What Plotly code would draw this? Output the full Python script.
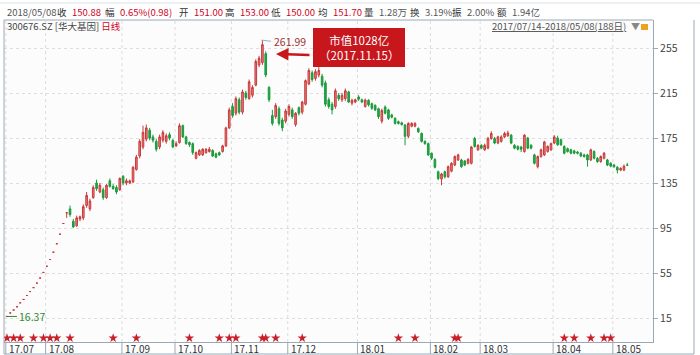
import plotly.graph_objects as go

# ---------------- data ----------------
opens = [16.37, 19.5, 22.1, 25.0, 28.5, 31.5, 35.0, 38.5, 42.0, 46.0, 50.5, 55.5, 61.0, 67.0, 73.5, 81.0, 89.5, 99.0,
         108.5, 112, 101, 97, 103, 104, 115, 112, 122, 135, 127, 129, 122, 137, 132, 131, 129, 141, 135, 135, 136, 147,
         159, 167, 174, 182, 176, 172, 167, 173, 172, 178, 173, 168, 171, 186, 176, 171, 170, 157, 160, 160,
         162, 163, 164, 161, 162, 163, 168, 184, 203, 197, 209, 198, 215, 210, 213, 222, 240, 242, 250, 220,
         195, 194, 201, 191, 190, 196, 200, 187, 202, 198, 205, 223, 233, 228, 231, 230, 224, 209, 205, 203,
         213, 209, 210, 216, 206, 207, 211.5, 209, 203, 208.5, 205.5, 204, 201, 190, 202.5, 200, 195.5, 192.5, 189.5, 188.5,
         186.5, 176.5, 185.5, 185.5, 183.5, 179, 172, 170, 161.5, 156, 145, 138.5, 145, 140.5, 145.5, 151, 155.5, 155.5, 154.5, 152.5,
         152.5, 174.5, 164.5, 168.5, 164.5, 166, 174.5, 174.5, 170.5, 172, 176, 177, 177.5, 168.5, 167.5, 167, 163, 175, 168.5, 160,
         149.5, 158.5, 160, 163, 164.5, 170.5, 175, 173.5, 167.5, 165.5, 164.5, 163.5, 162.5, 161.5, 160, 160, 155.5, 163, 157, 154,
         157, 155.5, 152.5, 151, 149, 146.5, 146.5, 151]
highs = [16.37, 19.5, 22.1, 25.0, 28.5, 31.5, 35.0, 38.5, 42.0, 46.0, 50.5, 55.5, 61.0, 67.0, 73.5, 81.0, 89.5, 99.0,
         108.5, 115, 103, 106, 106, 116, 127, 121, 133, 138, 135, 131, 134, 139, 134, 133, 140, 142, 139, 138, 150, 160,
         174, 186, 187, 184, 178, 174, 178, 182, 179, 180, 174, 172, 188, 187, 177, 172, 171, 163, 165, 166,
         166, 167, 165, 162, 163, 169, 185, 202, 206, 212, 211, 218, 217, 227, 222, 245, 248, 261.99, 252, 221,
         200, 206, 203, 193, 201, 205, 202, 198, 203, 208, 227, 237, 235, 236, 238, 232, 226, 211, 207, 219,
         215, 215, 219, 217, 210, 210, 213, 210, 210, 209.5, 206.5, 205, 202, 201, 204, 201, 196.5, 193.5, 190.5, 189.5,
         187.5, 189, 189, 189, 184.5, 180, 173, 171, 162, 157, 146, 144, 146, 150.5, 153.5, 159.5, 161, 156.5, 155.5, 157,
         168, 176, 169.5, 169.5, 170, 176, 181, 176, 177, 177.5, 180.5, 181.5, 178.5, 169.5, 168.5, 168, 178.5, 176, 169.5, 161,
         159.5, 165.5, 172.5, 168.5, 171, 177.5, 177, 174.5, 168.5, 166.5, 165.5, 164.5, 163.5, 162.5, 161, 161, 165.5, 164, 158, 159.5,
         162.5, 156.5, 153.5, 152, 150, 149, 151.5, 153]
lows = [16.37, 19.5, 22.1, 25.0, 28.5, 31.5, 35.0, 38.5, 42.0, 46.0, 50.5, 55.5, 61.0, 67.0, 73.5, 81.0, 89.5, 99.0,
        104, 105, 95, 96, 101, 102, 113, 110, 121, 128, 126, 120, 121, 131, 129, 125, 128, 133, 133, 134, 135, 146,
        157, 165, 172, 173, 171, 163, 165, 171, 170, 173, 166, 167, 170, 175, 169, 167, 160, 156, 159, 159,
        161, 162, 158, 157, 159, 162, 167, 183, 193, 195, 196, 196, 209, 209, 211, 221, 238, 240, 229, 207,
        186, 192, 186, 181, 188, 194, 192, 185, 195, 196, 204, 222, 225, 226, 229, 220, 203, 201, 196, 201,
        208, 207, 208, 206, 204, 206, 208, 206, 202, 203, 200, 199, 192, 188, 196, 191, 192.5, 187, 187, 186,
        168.5, 175, 184.5, 184.5, 179.5, 171, 169, 159, 155.5, 148, 137.5, 133, 139, 139.5, 144.5, 150, 154.5, 148.5, 150, 151.5,
        151.5, 166.5, 163.5, 165, 163.5, 165, 173.5, 169.5, 169.5, 171, 175, 176, 169.5, 165, 164, 162.5, 162, 165, 165, 151.5,
        148, 157.5, 159, 162, 163.5, 169.5, 168, 168, 160.5, 162, 160.5, 160.5, 160.5, 158, 157.5, 149.5, 154.5, 156, 153, 153,
        156, 150, 149, 148.5, 143.5, 145.5, 145.5, 150]
closes = [16.37, 19.5, 22.1, 25.0, 28.5, 31.5, 35.0, 38.5, 42.0, 46.0, 50.5, 55.5, 61.0, 67.0, 73.5, 81.0, 89.5, 99.0,
          108.5, 107, 96, 104, 105, 114, 124, 119, 131, 130, 133, 122, 133, 132, 130, 127, 139, 135, 137, 137, 149, 158,
          172, 180, 184, 175, 173, 165, 176, 180, 177, 175, 167, 170, 186, 176, 170, 169, 162, 162, 164, 165,
          165, 165, 159, 158, 160, 168, 184, 200, 195, 210, 198, 216, 211, 225, 220, 243, 246, 258, 231, 209,
          188, 204, 188, 184, 199, 203, 194, 197, 197, 207, 226, 235, 227, 234, 235, 222, 205, 203, 200, 217,
          210, 213, 217, 207, 208.5, 209, 209.5, 207, 208.7, 204.5, 201.5, 200, 194, 199.5, 197, 192.5, 193.5, 188, 188, 187,
          176.5, 188, 188, 188, 180.5, 172, 170, 160, 157, 149, 139, 143, 140.5, 149.5, 152.5, 158.5, 160, 149.5, 151, 156,
          167, 167.5, 168.5, 166, 168.5, 174.5, 179, 170.5, 176, 176, 179, 179.5, 170.5, 166, 165, 165, 177.5, 166, 166, 152.5,
          158.5, 164.5, 171.5, 167.5, 170, 176, 169, 169, 161.5, 163, 161.5, 161.5, 161.5, 159, 158.5, 155.5, 164.5, 157, 154, 158.5,
          161.5, 151, 150, 149.5, 146.5, 148, 149.9, 150.88]

month_labels = ["17.07", "17.08", "17.09", "17.10", "17.11", "17.12", "18.01", "18.02", "18.03", "18.04", "18.05"]
month_start = [0, 12, 35, 51, 68, 85, 106, 128, 143, 165, 183]
star_days = [0, 2, 4, 8, 11, 13, 15, 19, 32, 39, 55, 64, 67, 69, 77, 78, 81, 89, 118, 123, 135, 136, 168, 171, 176, 180, 182]
y_ticks = [15, 55, 95, 135, 175, 215, 255]

peak_day, peak_val = 77, 261.99
low_day, low_val = 0, 16.37

# header: labels, values, value colours
header_labels = ["收", "幅", "开", "高", "低", "均", "量", "换", "振", "额"]
header_values = ["150.88", "0.65%(0.98)", "151.00", "153.00", "150.00", "151.70", "1.28万", "3.19%", "2.00%", "1.94亿"]
header_colors = ["#d0021b", "#d0021b", "#d0021b", "#d0021b", "#d0021b", "#d0021b", "#555", "#555", "#555", "#555"]
header_value_px = [70, 118, 192, 238, 284, 331, 377, 423, 465, 510]

# ---------------- geometry ----------------
W, H = 700, 355
L, R, T, B = 4, 653, 20, 342
YMIN = 15 - (B - 318) / 1.125
YMAX = 15 + (318 - T) / 1.125
XMIN = (L - 7) / 3.317
XMAX = (R - 7) / 3.317

def px(x):
    return (x - L) / (R - L)

def py(y):
    return (B - y) / (B - T)

FONT = "Noto Sans CJK SC, DejaVu Sans, sans-serif"
days = list(range(len(closes)))

fig = go.Figure()
fig.add_trace(go.Candlestick(
    x=days, open=opens, high=highs, low=lows, close=closes,
    increasing=dict(line=dict(color="#c83a3a", width=1), fillcolor="#e58080"),
    decreasing=dict(line=dict(color="#1c9a3c", width=1), fillcolor="#25a544"),
    whiskerwidth=0, hoverinfo="skip", showlegend=False))

fig.add_trace(go.Scatter(
    x=star_days, y=[YMIN + 3.5] * len(star_days), mode="markers",
    marker=dict(symbol="star", size=7, color="#c8202a", line=dict(width=0)),
    hoverinfo="skip", showlegend=False))

shapes = []
for m in month_start:
    shapes.append(dict(type="line", xref="x", yref="paper", x0=m - 0.35, x1=m - 0.35, y0=0, y1=1,
                       line=dict(color="#dcdcdc", width=1, dash="dot"), layer="below"))
    shapes.append(dict(type="line", xref="x", yref="paper", x0=m - 0.35, x1=m - 0.35, y0=0, y1=py(H - 1),
                       line=dict(color="#9aa8b8", width=1)))
# borders
shapes.append(dict(type="line", xref="paper", yref="paper", x0=0, x1=0, y0=py(H - 1), y1=1,
                   line=dict(color="#9aa8b8", width=1)))
shapes.append(dict(type="line", xref="paper", yref="paper", x0=px(694), x1=px(694), y0=py(H - 1), y1=1,
                   line=dict(color="#9aa8b8", width=1)))
shapes.append(dict(type="line", xref="paper", yref="paper", x0=0, x1=px(694), y0=py(H - 1), y1=py(H - 1),
                   line=dict(color="#9aa8b8", width=1)))
shapes.append(dict(type="line", xref="paper", yref="paper", x0=0, x1=1, y0=1, y1=1,
                   line=dict(color="#9aa8b8", width=1)))
shapes.append(dict(type="line", xref="paper", yref="paper", x0=px(0), x1=px(700), y0=py(3), y1=py(3),
                   line=dict(color="#dde2e8", width=1)))
# peak / low marker lines
shapes.append(dict(type="line", xref="x", yref="y", x0=peak_day - 0.3, x1=peak_day + 2.6, y0=peak_val, y1=peak_val - 1,
                   line=dict(color="#8fb0d0", width=1)))
shapes.append(dict(type="line", xref="x", yref="y", x0=low_day, x1=low_day + 3, y0=low_val, y1=low_val,
                   line=dict(color="#2e8b2e", width=1)))
# red callout box
shapes.append(dict(type="rect", xref="paper", yref="paper", x0=px(313), x1=px(405), y0=py(67), y1=py(28),
                   fillcolor="#c8161d", line=dict(width=0)))
# lock icon
shapes.append(dict(type="rect", xref="paper", yref="paper", x0=px(641), x1=px(648), y0=py(30), y1=py(24),
                   fillcolor="#f0a020", line=dict(width=0)))

HF = 9.5
annotations = []
for lab, m in zip(month_labels, month_start):
    annotations.append(dict(x=m - 0.35, y=py(348), xref="x", yref="paper", text=lab, showarrow=False,
                            xanchor="left", yanchor="middle", xshift=1,
                            font=dict(family=FONT, size=10, color="#333")))
annotations.append(dict(x=px(5), y=py(12), xref="paper", yref="paper", text="2018/05/08", showarrow=False,
                        xanchor="left", yanchor="middle", font=dict(family=FONT, size=HF, color="#555")))
for lab, val, col, vx in zip(header_labels, header_values, header_colors, header_value_px):
    annotations.append(dict(x=px(vx - 1), y=py(12), xref="paper", yref="paper", text=lab, showarrow=False,
                            xanchor="right", yanchor="middle", font=dict(family=FONT, size=HF, color="#333")))
    annotations.append(dict(x=px(vx), y=py(12), xref="paper", yref="paper", text=val, showarrow=False,
                            xanchor="left", yanchor="middle", font=dict(family=FONT, size=HF, color=col)))
annotations.append(dict(x=px(5), y=py(26), xref="paper", yref="paper",
                        text="300676.SZ [华大基因] <span style='color:#d0021b'>日线</span>", showarrow=False,
                        xanchor="left", yanchor="middle", font=dict(family=FONT, size=HF, color="#444")))
annotations.append(dict(x=px(628), y=py(26), xref="paper", yref="paper",
                        text="<u>2017/07/14-2018/05/08(188日)</u>", showarrow=False,
                        xanchor="right", yanchor="middle", font=dict(family=FONT, size=HF, color="#555")))
annotations.append(dict(x=px(629), y=py(26), xref="paper", yref="paper", text="▼", showarrow=False,
                        xanchor="left", yanchor="middle", font=dict(family=FONT, size=9, color="#888")))
annotations.append(dict(x=peak_day + 2.8, y=peak_val - 1, xref="x", yref="y", text=f"{peak_val:.2f}", showarrow=False,
                        xanchor="left", yanchor="middle", font=dict(family=FONT, size=10.5, color="#a03030")))
annotations.append(dict(x=low_day + 3.1, y=low_val, xref="x", yref="y", text=f"{low_val:.2f}", showarrow=False,
                        xanchor="left", yanchor="middle", font=dict(family=FONT, size=10.5, color="#2e8b2e")))
annotations.append(dict(x=px(359), y=py(47.5), xref="paper", yref="paper",
                        text="市值1028亿<br>（2017.11.15）", showarrow=False, align="center",
                        xanchor="center", yanchor="middle", font=dict(family=FONT, size=11.5, color="white")))
annotations.append(dict(x=px(276), y=py(54), xref="paper", yref="paper", ax=35, ay=1,
                        text="", showarrow=True, arrowhead=2, arrowsize=1,
                        arrowwidth=2.5, arrowcolor="#c8161d"))

fig.update_layout(
    width=W, height=H, margin=dict(l=L, r=W - R, t=T, b=H - B),
    paper_bgcolor="white", plot_bgcolor="#fcfcfc",
    shapes=shapes, annotations=annotations,
    xaxis=dict(range=[XMIN, XMAX], showgrid=False, zeroline=False, showticklabels=False,
               showline=True, linecolor="#9aa8b8", rangeslider=dict(visible=False), fixedrange=True),
    yaxis=dict(range=[YMIN, YMAX], side="right", tickvals=y_ticks, ticks="outside", ticklen=4,
               tickcolor="#9aa8b8", showline=True, linecolor="#9aa8b8", showgrid=True,
               gridcolor="#dedede", griddash="dot", zeroline=False,
               tickfont=dict(family=FONT, size=10.5, color="#444")),
)

fig.write_html("out.html")
